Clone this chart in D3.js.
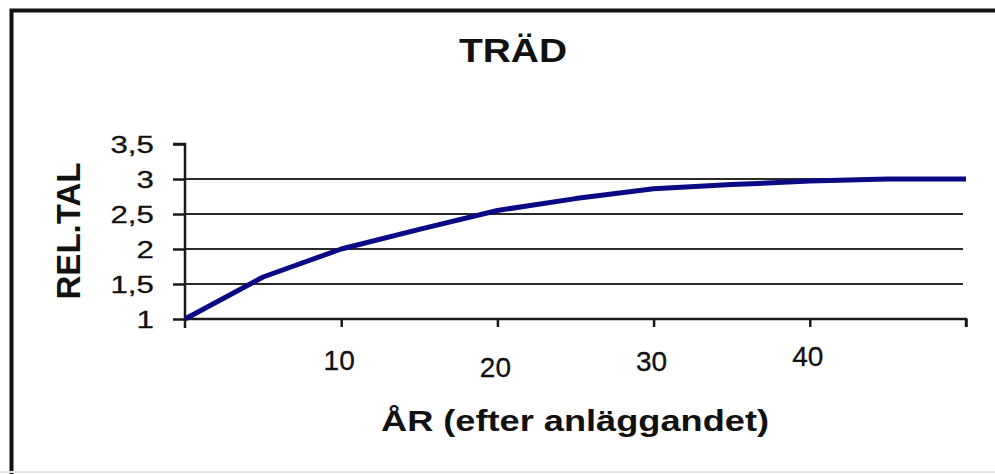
<!DOCTYPE html>
<html>
<head>
<meta charset="utf-8">
<script src="https://cdn.jsdelivr.net/npm/d3@7"></script>
<style>
    html, body { margin: 0; padding: 0; background: #fff; }
    svg { display: block; }
    svg text { font-family: Arial, "Liberation Sans", sans-serif; }
</style>
</head>
<body>
<svg id="chart" width="995" height="474"></svg>
<script>
/*
    träd chart
*/

/* global d3 : false */

const years = [0, 5, 10, 15, 20, 25, 30, 35, 40, 45, 50];
const relTal = [1, 1.6, 2.0, 2.28, 2.55, 2.72, 2.86, 2.92, 2.97, 3.0, 3.0];
const xTicks = [10, 20, 30, 40];
const yTicks = [1, 1.5, 2, 2.5, 3, 3.5];
const gridValues = [1.5, 2, 2.5, 3];
// small vertical shifts of the x tick labels, as in the scan
const xLabelShift = [0, 7, 1, -4];

const title = "TRÄD";
const xTitle = "ÅR (efter anläggandet)";
const yTitle = "REL.TAL";

const svg = d3.select("#chart");

// frame: heavy line at top and left, faint line at bottom
svg.append("path")
    .attr("d", "M11.5,474V10.5H995")
    .attr("fill", "none")
    .attr("stroke", "#111")
    .attr("stroke-width", 4);
svg.append("line")
    .attr("x1", 0).attr("x2", 995)
    .attr("y1", 472).attr("y2", 472)
    .attr("stroke", "#e4e4e4")
    .attr("stroke-width", 2);

const x = d3.scaleLinear().domain([0, 50]).range([185, 966]);
const y = d3.scaleLinear().domain([1, 3.5]).range([319, 144]);

// gridlines
svg.append("g")
    .selectAll("line")
    .data(gridValues)
    .join("line")
    .attr("x1", x(0)).attr("x2", x(50) - 3)
    .attr("y1", d => y(d)).attr("y2", d => y(d))
    .attr("stroke", "#2a2a2a")
    .attr("stroke-width", 2);

// y axis
const yAxis = svg.append("g")
    .attr("transform", `translate(${x(0)},0)`)
    .call(d3.axisLeft(y).tickValues(yTicks).tickSize(12).tickPadding(0)
        .tickFormat(d => String(d).replace(".", ",")));
yAxis.attr("font-family", null).attr("font-size", null);
yAxis.select(".domain")
    .attr("d", `M-12,${y(3.5)}H0V${y(1) + 9}`)
    .attr("stroke", "#1a1a1a")
    .attr("stroke-width", 2.5);
yAxis.selectAll(".tick line").attr("stroke", "#1a1a1a").attr("stroke-width", 2.5);
yAxis.selectAll(".tick text")
    .attr("x", -24)
    .attr("dy", "0.36em")
    .attr("transform", "scale(1.3,1)")
    .attr("fill", "#111")
    .attr("stroke", "#111")
    .attr("stroke-width", 0.3)
    .style("font-size", "24px");

// x axis
const xAxis = svg.append("g")
    .attr("transform", `translate(0,${y(1)})`)
    .call(d3.axisBottom(x).tickValues([10, 20, 30, 40, 50]).tickSize(8).tickFormat(""));
xAxis.select(".domain")
    .attr("d", `M${x(0)},0H${x(50)}V8`)
    .attr("stroke", "#1a1a1a")
    .attr("stroke-width", 2.5);
xAxis.selectAll(".tick line").attr("stroke", "#1a1a1a").attr("stroke-width", 2.5);

svg.append("g")
    .selectAll("text")
    .data(xTicks)
    .join("text")
    .attr("x", d => x(d) - 2)
    .attr("y", (d, i) => 370 + xLabelShift[i])
    .attr("text-anchor", "middle")
    .attr("fill", "#111")
    .attr("stroke", "#111")
    .attr("stroke-width", 0.3)
    .style("font-size", "28px")
    .text(d => d);

// data line
const line = d3.line()
    .x((d, i) => x(years[i]))
    .y(d => y(d));
svg.append("path")
    .datum(relTal)
    .attr("d", line)
    .attr("fill", "none")
    .attr("stroke", "#0a0a84")
    .attr("stroke-width", 5)
    .attr("stroke-linejoin", "round");

// titles
svg.append("text")
    .attr("x", 513).attr("y", 62)
    .attr("text-anchor", "middle")
    .attr("textLength", 108)
    .attr("lengthAdjust", "spacingAndGlyphs")
    .attr("font-weight", "bold")
    .attr("fill", "#111")
    .style("font-size", "33px")
    .text(title);

svg.append("text")
    .attr("x", 575).attr("y", 431)
    .attr("text-anchor", "middle")
    .attr("textLength", 388)
    .attr("lengthAdjust", "spacingAndGlyphs")
    .attr("font-weight", "bold")
    .attr("fill", "#111")
    .style("font-size", "29px")
    .text(xTitle);

svg.append("text")
    .attr("transform", "translate(80,231) rotate(-90)")
    .attr("text-anchor", "middle")
    .attr("textLength", 137)
    .attr("lengthAdjust", "spacingAndGlyphs")
    .attr("font-weight", "bold")
    .attr("fill", "#111")
    .style("font-size", "33px")
    .text(yTitle);
</script>
</body>
</html>
